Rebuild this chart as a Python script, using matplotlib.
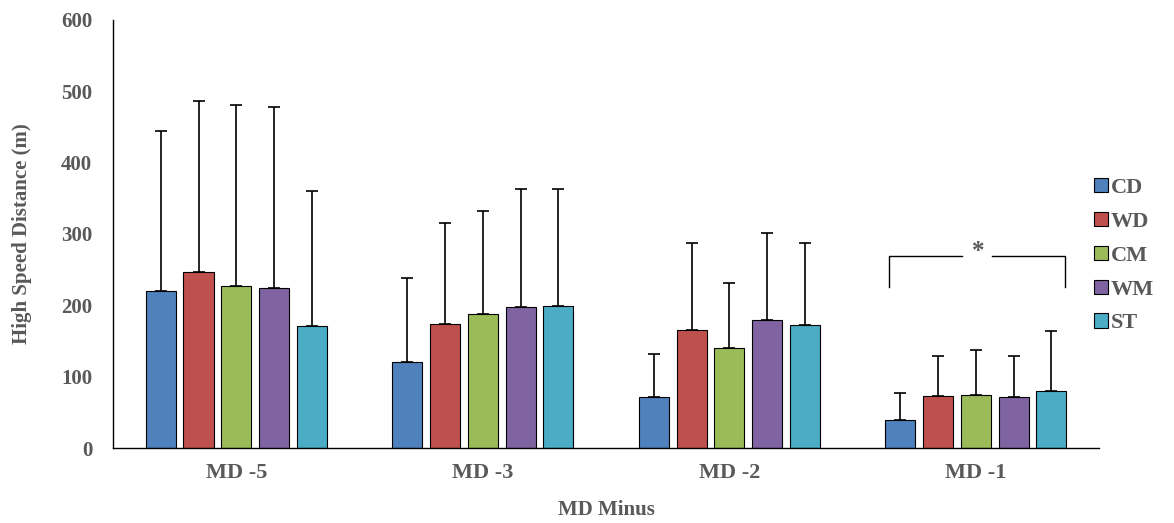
import numpy as np
import matplotlib.pyplot as plt

groups = ['MD -5', 'MD -3', 'MD -2', 'MD -1']
series = ['CD', 'WD', 'CM', 'WM', 'ST']
colors = ['#4F81BD', '#C0504D', '#9BBB59', '#8064A2', '#4BACC6']

means = {
    'CD': [220, 121, 71, 39],
    'WD': [247, 174, 165, 73],
    'CM': [227, 188, 140, 74],
    'WM': [224, 198, 179, 71],
    'ST': [171, 199, 172, 80],
}
upper = {
    'CD': [444, 238, 132, 77],
    'WD': [486, 315, 287, 129],
    'CM': [481, 332, 231, 137],
    'WM': [478, 363, 301, 129],
    'ST': [360, 363, 287, 164],
}

plt.rcParams['font.family'] = ['Liberation Serif', 'DejaVu Serif']
plt.rcParams['font.weight'] = 'bold'
gray = '#595959'

fig = plt.figure(figsize=(11.74, 5.23), dpi=100)
ax = fig.add_axes([0.0963, 0.1434, 0.8399, 0.8184])

x = np.arange(len(groups))
width = 0.122
step = 0.1533
for i, (s, c) in enumerate(zip(series, colors)):
    pos = x + (i - 2) * step
    m = np.array(means[s])
    err = np.array(upper[s]) - m
    ax.bar(pos, m, width, color=c, edgecolor='black', linewidth=0.8, label=s,
           yerr=[np.zeros_like(err), err], capsize=4,
           error_kw=dict(ecolor='black', elinewidth=1.2, capthick=1.2))

# significance bracket over MD -1
bx0, bx1 = 3 - 0.351, 3 + 0.363
ax.plot([bx0, bx0, 2.945], [226, 269, 269], color='black', lw=1)
ax.plot([3.067, bx1, bx1], [269, 269, 226], color='black', lw=1)
ax.text(3.01, 276, '*', ha='center', va='center', fontsize=18, color=gray,
        fontweight='bold')

ax.set_xlim(-0.5, 3.5)
ax.set_ylim(0, 600)
ax.set_yticks(range(0, 601, 100))
ax.set_xticks(x)
ax.set_xticklabels(groups)
ax.tick_params(length=0, labelcolor=gray)
ax.tick_params(axis='x', labelsize=16, pad=11)
ax.tick_params(axis='y', labelsize=15, pad=15)
ax.set_xlabel('MD Minus', fontsize=15, color=gray, fontweight='bold', labelpad=12)
ax.set_ylabel('High Speed Distance (m)', fontsize=15, color=gray,
              fontweight='bold', labelpad=21)
for sp in ['top', 'right']:
    ax.spines[sp].set_visible(False)
for sp in ['left', 'bottom']:
    ax.spines[sp].set_linewidth(1)

leg = ax.legend(loc='center left', bbox_to_anchor=(0.975, 0.449), frameon=False,
                prop=dict(size=16, weight='bold'), handlelength=0.6,
                handleheight=0.6, handletextpad=0.15, labelspacing=0.62)
for t in leg.get_texts():
    t.set_color(gray)

fig.savefig('out.png', dpi=100)
